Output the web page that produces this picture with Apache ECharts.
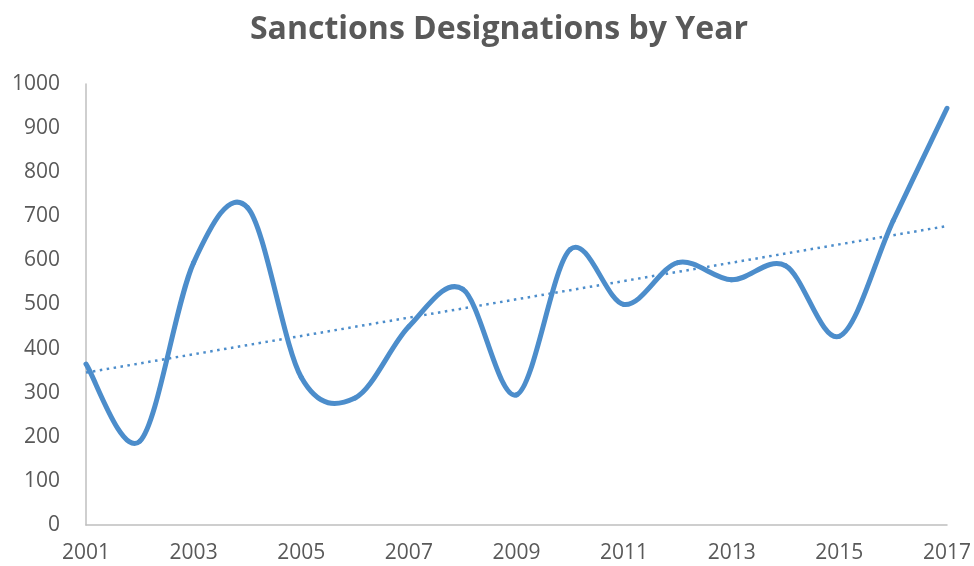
<!DOCTYPE html>
<html>
<head>
<meta charset="utf-8">
<script src="https://cdn.jsdelivr.net/npm/echarts@6/dist/echarts.min.js"></script>
<style>
  html, body { margin: 0; padding: 0; background: #ffffff; }
  #chart { width: 974px; height: 566px; }
</style>
</head>
<body>
<div id="chart"></div>
<script>
// Annual sanctions designations
const years = ['2001','2002','2003','2004','2005','2006','2007','2008','2009',
               '2010','2011','2012','2013','2014','2015','2016','2017'];
const designations = [365, 190, 595, 720, 335, 288, 450, 535, 295,
                      625, 500, 595, 556, 588, 428, 690, 945];
const yTicks = [0, 100, 200, 300, 400, 500, 600, 700, 800, 900, 1000];

// Least-squares linear trend through the yearly values
function linearTrend(values) {
  const n = values.length;
  let sx = 0, sy = 0, sxy = 0, sxx = 0;
  values.forEach((v, i) => { sx += i; sy += v; sxy += i * v; sxx += i * i; });
  const slope = (n * sxy - sx * sy) / (n * sxx - sx * sx);
  const intercept = (sy - slope * sx) / n;
  return values.map((_, i) => +(intercept + slope * i).toFixed(2));
}
const trend = linearTrend(designations);

const textGrey = '#595959';
const axisGrey = '#bfbfbf';
const lineBlue = '#4c8dcb';

// Smoothed line: one cubic Bezier per year-to-year segment, with
// Catmull-Rom style control points taken from the neighbouring years.
function renderSmoothSegment(params, api) {
  const i = params.dataIndex;
  const n = designations.length;
  if (i >= n - 1) return null;
  const pt = k => {
    const j = Math.max(0, Math.min(n - 1, k));
    return api.coord([j, designations[j]]);
  };
  const p0 = pt(i - 1), p1 = pt(i), p2 = pt(i + 1), p3 = pt(i + 2);
  return {
    type: 'bezierCurve',
    shape: {
      x1: p1[0], y1: p1[1],
      cpx1: p1[0] + (p2[0] - p0[0]) / 6, cpy1: p1[1] + (p2[1] - p0[1]) / 6,
      cpx2: p2[0] - (p3[0] - p1[0]) / 6, cpy2: p2[1] - (p3[1] - p1[1]) / 6,
      x2: p2[0], y2: p2[1]
    },
    style: { stroke: lineBlue, lineWidth: 5, fill: null, lineCap: 'round' },
    silent: true
  };
}

const chart = echarts.init(document.getElementById('chart'), null, { renderer: 'canvas' });
chart.setOption({
  animation: false,
  backgroundColor: '#ffffff',
  title: {
    text: 'Sanctions Designations by Year',
    left: 494,
    textAlign: 'center',
    top: 9,
    textStyle: {
      fontFamily: 'Open Sans',
      fontWeight: 'bold',
      fontSize: 32,
      color: textGrey
    }
  },
  grid: { left: 86, right: 27, top: 84, bottom: 41, containLabel: false },
  xAxis: {
    type: 'category',
    data: years,
    boundaryGap: false,
    axisLine: { show: true, lineStyle: { color: axisGrey, width: 1.5 } },
    axisTick: { show: false },
    splitLine: { show: false },
    axisLabel: {
      interval: 1,
      margin: 18,
      color: textGrey,
      fontFamily: 'Open Sans',
      fontSize: 21
    }
  },
  yAxis: {
    type: 'value',
    min: yTicks[0],
    max: yTicks[yTicks.length - 1],
    interval: yTicks[1] - yTicks[0],
    axisLine: { show: true, lineStyle: { color: axisGrey, width: 1.5 } },
    axisTick: { show: false },
    splitLine: { show: false },
    axisLabel: {
      margin: 26,
      color: textGrey,
      fontFamily: 'Open Sans',
      fontSize: 21,
      formatter: v => String(v)
    }
  },
  series: [
    {
      name: 'Designations',
      type: 'custom',
      renderItem: renderSmoothSegment,
      data: designations.map((v, i) => [i, v]),
      encode: { x: 0, y: 1 },
      z: 3
    },
    {
      name: 'Linear trend',
      type: 'line',
      data: trend,
      symbol: 'none',
      lineStyle: { color: lineBlue, width: 2.5, type: [2.5, 4.5] },
      z: 2
    }
  ]
});
</script>
</body>
</html>
